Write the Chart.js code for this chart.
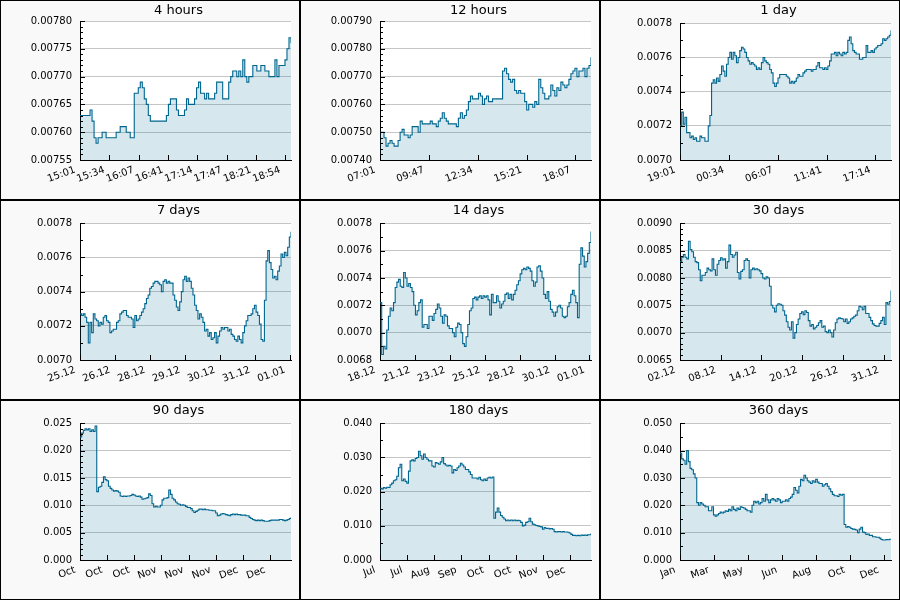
<!DOCTYPE html>
<html>
<head>
<meta charset="utf-8">
<script src="https://cdn.jsdelivr.net/npm/chart.js@4/dist/chart.umd.min.js"></script>
<style>
  body { margin: 0; background: #fff; }
  #grid {
    width: 900px; height: 600px; box-sizing: border-box; padding: 1px;
    background: #000; display: grid; gap: 2px;
    grid-template-columns: 298px 298px 298px;
    grid-template-rows: 198px 198px 198px;
  }
  .cell { background: #f9f9f9; }
  canvas { display: block; }
</style>
</head>
<body>
<div id="grid"></div>
<script>
// x tick labels
const labels4h = ['15:01', '15:34', '16:07', '16:41', '17:14', '17:47', '18:21', '18:54'];
const labels12h = ['07:01', '09:47', '12:34', '15:21', '18:07'];
const labels1d = ['19:01', '00:34', '06:07', '11:41', '17:14'];
const labels7d = ['25.12', '26.12', '28.12', '29.12', '30.12', '31.12', '01.01'];
const labels14d = ['18.12', '21.12', '23.12', '25.12', '28.12', '30.12', '01.01'];
const labels30d = ['02.12', '08.12', '14.12', '20.12', '26.12', '31.12'];
const labels90d = ['Oct', 'Oct', 'Oct', 'Nov', 'Nov', 'Nov', 'Dec', 'Dec'];
const labels180d = ['Jul', 'Jul', 'Aug', 'Sep', 'Oct', 'Oct', 'Nov', 'Dec'];
const labels360d = ['Jan', 'Mar', 'May', 'Jun', 'Aug', 'Oct', 'Dec'];

// prices, sampled at even time steps over each range
const values4h = [0.00763,0.00763,0.00763,0.00763,0.00763,0.00764,0.00762,0.00759,0.00758,0.00759,0.00759,0.00760,0.00760,0.00759,0.00759,0.00759,0.00759,0.00759,0.00760,0.00760,0.00761,0.00761,0.00761,0.00760,0.00760,0.00759,0.00759,0.00767,0.00767,0.00768,0.00769,0.00768,0.00766,0.00765,0.00763,0.00762,0.00762,0.00762,0.00762,0.00762,0.00762,0.00762,0.00762,0.00763,0.00765,0.00766,0.00766,0.00766,0.00764,0.00763,0.00763,0.00763,0.00764,0.00766,0.00765,0.00765,0.00765,0.00766,0.00768,0.00769,0.00767,0.00767,0.00766,0.00767,0.00766,0.00766,0.00766,0.00767,0.00769,0.00769,0.00769,0.00766,0.00766,0.00766,0.00769,0.00770,0.00771,0.00771,0.00770,0.00771,0.00770,0.00773,0.00770,0.00769,0.00770,0.00770,0.00772,0.00772,0.00771,0.00771,0.00772,0.00772,0.00771,0.00771,0.00770,0.00770,0.00770,0.00773,0.00770,0.00772,0.00772,0.00772,0.00773,0.00775,0.00777,0.00776];
const values12h = [0.00750,0.00750,0.00748,0.00745,0.00746,0.00747,0.00746,0.00745,0.00745,0.00747,0.00750,0.00751,0.00749,0.00749,0.00748,0.00749,0.00752,0.00752,0.00752,0.00750,0.00754,0.00753,0.00753,0.00753,0.00753,0.00754,0.00753,0.00753,0.00752,0.00754,0.00755,0.00757,0.00755,0.00754,0.00753,0.00753,0.00753,0.00753,0.00752,0.00755,0.00757,0.00755,0.00756,0.00758,0.00761,0.00763,0.00762,0.00762,0.00762,0.00764,0.00763,0.00760,0.00762,0.00763,0.00761,0.00761,0.00762,0.00762,0.00762,0.00762,0.00762,0.00772,0.00773,0.00771,0.00769,0.00768,0.00769,0.00765,0.00764,0.00765,0.00764,0.00764,0.00761,0.00758,0.00760,0.00760,0.00759,0.00761,0.00760,0.00769,0.00766,0.00764,0.00762,0.00762,0.00763,0.00767,0.00765,0.00763,0.00766,0.00765,0.00768,0.00767,0.00766,0.00767,0.00769,0.00771,0.00772,0.00773,0.00770,0.00772,0.00772,0.00773,0.00770,0.00773,0.00774,0.00777];
const values1d = [0.00720,0.00728,0.00721,0.00725,0.00716,0.00716,0.00713,0.00714,0.00712,0.00713,0.00711,0.00711,0.00714,0.00713,0.00713,0.00711,0.00711,0.00720,0.00726,0.00745,0.00747,0.00745,0.00748,0.00746,0.00750,0.00755,0.00752,0.00749,0.00756,0.00760,0.00763,0.00759,0.00763,0.00761,0.00757,0.00760,0.00764,0.00766,0.00765,0.00763,0.00760,0.00758,0.00756,0.00757,0.00756,0.00755,0.00753,0.00754,0.00753,0.00757,0.00760,0.00758,0.00757,0.00756,0.00753,0.00751,0.00745,0.00743,0.00745,0.00748,0.00750,0.00750,0.00750,0.00750,0.00749,0.00748,0.00745,0.00746,0.00745,0.00746,0.00748,0.00750,0.00749,0.00749,0.00751,0.00752,0.00753,0.00753,0.00753,0.00752,0.00753,0.00753,0.00755,0.00757,0.00754,0.00754,0.00753,0.00754,0.00753,0.00755,0.00758,0.00762,0.00762,0.00763,0.00761,0.00763,0.00762,0.00761,0.00763,0.00762,0.00763,0.00770,0.00772,0.00768,0.00764,0.00763,0.00762,0.00762,0.00759,0.00759,0.00760,0.00760,0.00767,0.00763,0.00763,0.00764,0.00763,0.00765,0.00766,0.00767,0.00767,0.00768,0.00771,0.00770,0.00771,0.00772,0.00773,0.00776];
const values7d = [0.00727,0.00726,0.00727,0.00725,0.00722,0.00710,0.00722,0.00716,0.00727,0.00724,0.00723,0.00720,0.00722,0.00721,0.00725,0.00726,0.00723,0.00722,0.00716,0.00717,0.00718,0.00718,0.00722,0.00723,0.00727,0.00728,0.00729,0.00729,0.00726,0.00725,0.00725,0.00724,0.00719,0.00726,0.00723,0.00724,0.00726,0.00728,0.00730,0.00733,0.00736,0.00738,0.00742,0.00743,0.00745,0.00746,0.00746,0.00745,0.00744,0.00740,0.00746,0.00747,0.00745,0.00746,0.00745,0.00745,0.00738,0.00735,0.00731,0.00729,0.00734,0.00740,0.00747,0.00749,0.00746,0.00748,0.00746,0.00742,0.00738,0.00732,0.00729,0.00724,0.00727,0.00725,0.00722,0.00717,0.00718,0.00714,0.00716,0.00712,0.00713,0.00716,0.00710,0.00714,0.00717,0.00719,0.00718,0.00719,0.00719,0.00717,0.00718,0.00715,0.00714,0.00712,0.00711,0.00714,0.00712,0.00710,0.00716,0.00720,0.00723,0.00726,0.00726,0.00727,0.00730,0.00732,0.00728,0.00726,0.00721,0.00712,0.00711,0.00735,0.00758,0.00764,0.00757,0.00753,0.00748,0.00749,0.00747,0.00752,0.00755,0.00762,0.00760,0.00763,0.00761,0.00766,0.00772,0.00775];
const values14d = [0.00722,0.00684,0.00690,0.00688,0.00702,0.00712,0.00718,0.00716,0.00722,0.00733,0.00737,0.00739,0.00734,0.00733,0.00744,0.00740,0.00734,0.00736,0.00733,0.00730,0.00720,0.00713,0.00716,0.00722,0.00724,0.00704,0.00706,0.00706,0.00703,0.00712,0.00712,0.00709,0.00714,0.00717,0.00721,0.00718,0.00712,0.00707,0.00713,0.00712,0.00705,0.00703,0.00703,0.00700,0.00697,0.00704,0.00707,0.00706,0.00700,0.00692,0.00690,0.00697,0.00706,0.00716,0.00718,0.00725,0.00726,0.00724,0.00726,0.00727,0.00725,0.00727,0.00726,0.00727,0.00724,0.00713,0.00728,0.00722,0.00722,0.00727,0.00723,0.00718,0.00721,0.00723,0.00728,0.00729,0.00725,0.00728,0.00724,0.00728,0.00731,0.00735,0.00738,0.00743,0.00746,0.00747,0.00746,0.00748,0.00747,0.00745,0.00738,0.00734,0.00737,0.00748,0.00749,0.00745,0.00740,0.00728,0.00725,0.00730,0.00723,0.00717,0.00715,0.00712,0.00715,0.00719,0.00720,0.00718,0.00712,0.00711,0.00712,0.00719,0.00722,0.00728,0.00731,0.00727,0.00722,0.00711,0.00750,0.00762,0.00756,0.00748,0.00752,0.00758,0.00766,0.00774];
const values30d = [0.00830,0.00838,0.00843,0.00838,0.00835,0.00867,0.00852,0.00848,0.00838,0.00830,0.00828,0.00815,0.00795,0.00805,0.00805,0.00810,0.00818,0.00815,0.00813,0.00835,0.00815,0.00805,0.00825,0.00832,0.00837,0.00833,0.00835,0.00818,0.00830,0.00860,0.00843,0.00838,0.00842,0.00847,0.00810,0.00798,0.00812,0.00815,0.00832,0.00835,0.00832,0.00800,0.00815,0.00818,0.00815,0.00817,0.00815,0.00813,0.00808,0.00800,0.00798,0.00802,0.00800,0.00785,0.00750,0.00745,0.00738,0.00750,0.00753,0.00752,0.00750,0.00740,0.00732,0.00720,0.00710,0.00705,0.00720,0.00690,0.00700,0.00715,0.00725,0.00735,0.00738,0.00733,0.00740,0.00737,0.00722,0.00712,0.00715,0.00707,0.00710,0.00713,0.00718,0.00722,0.00710,0.00712,0.00702,0.00700,0.00705,0.00700,0.00692,0.00705,0.00718,0.00725,0.00727,0.00726,0.00725,0.00720,0.00725,0.00717,0.00720,0.00725,0.00727,0.00730,0.00732,0.00740,0.00748,0.00747,0.00742,0.00748,0.00735,0.00735,0.00728,0.00722,0.00716,0.00713,0.00712,0.00712,0.00717,0.00722,0.00728,0.00715,0.00755,0.00752,0.00757,0.00777];
const values90d = [0.0225,0.0232,0.0237,0.0240,0.0238,0.0240,0.0235,0.0238,0.0235,0.0245,0.0125,0.0133,0.0135,0.0142,0.0152,0.0147,0.0145,0.0135,0.0131,0.0128,0.0126,0.0127,0.0126,0.0124,0.0117,0.0116,0.0117,0.0116,0.0117,0.0117,0.0118,0.0120,0.0119,0.0117,0.0116,0.0117,0.0115,0.0111,0.0112,0.0113,0.0114,0.0121,0.0118,0.0103,0.0097,0.0098,0.0097,0.0097,0.0100,0.0110,0.0113,0.0113,0.0114,0.0128,0.0120,0.0113,0.0110,0.0106,0.0103,0.0102,0.0100,0.0101,0.0100,0.0098,0.0096,0.0096,0.0094,0.0090,0.0087,0.0089,0.0091,0.0093,0.0093,0.0092,0.0093,0.0092,0.0092,0.0091,0.0091,0.0090,0.0090,0.0086,0.0081,0.0082,0.0084,0.0085,0.0084,0.0083,0.0082,0.0081,0.0083,0.0084,0.0083,0.0084,0.0083,0.0083,0.0082,0.0082,0.0082,0.0081,0.0081,0.0078,0.0076,0.0074,0.0073,0.0072,0.0073,0.0072,0.0073,0.0072,0.0071,0.0071,0.0071,0.0072,0.0073,0.0073,0.0073,0.0073,0.0073,0.0074,0.0074,0.0073,0.0072,0.0073,0.0074,0.0076,0.0078];
const values180d = [0.0210,0.0208,0.0212,0.0210,0.0213,0.0212,0.0220,0.0225,0.0232,0.0235,0.0245,0.0270,0.0280,0.0232,0.0237,0.0230,0.0225,0.0260,0.0290,0.0293,0.0290,0.0297,0.0300,0.0318,0.0305,0.0295,0.0310,0.0300,0.0295,0.0290,0.0290,0.0275,0.0272,0.0285,0.0283,0.0280,0.0287,0.0300,0.0282,0.0278,0.0275,0.0277,0.0275,0.0255,0.0265,0.0262,0.0270,0.0275,0.0283,0.0278,0.0272,0.0265,0.0265,0.0258,0.0250,0.0240,0.0240,0.0240,0.0237,0.0242,0.0235,0.0232,0.0237,0.0233,0.0240,0.0242,0.0240,0.0243,0.0122,0.0140,0.0152,0.0140,0.0130,0.0125,0.0120,0.0115,0.0117,0.0115,0.0117,0.0115,0.0117,0.0115,0.0116,0.0115,0.0110,0.0100,0.0102,0.0110,0.0112,0.0122,0.0112,0.0105,0.0103,0.0101,0.0100,0.0098,0.0097,0.0090,0.0095,0.0092,0.0093,0.0091,0.0092,0.0090,0.0083,0.0082,0.0083,0.0083,0.0082,0.0083,0.0082,0.0082,0.0081,0.0079,0.0075,0.0072,0.0072,0.0071,0.0072,0.0071,0.0073,0.0072,0.0073,0.0072,0.0074,0.0074,0.0078];
const values360d = [0.0390,0.0370,0.0365,0.0350,0.0400,0.0360,0.0335,0.0330,0.0315,0.0300,0.0210,0.0200,0.0210,0.0205,0.0200,0.0195,0.0195,0.0180,0.0180,0.0195,0.0165,0.0160,0.0165,0.0170,0.0175,0.0172,0.0175,0.0180,0.0178,0.0185,0.0180,0.0195,0.0185,0.0180,0.0190,0.0185,0.0195,0.0192,0.0190,0.0185,0.0180,0.0180,0.0175,0.0200,0.0215,0.0210,0.0215,0.0205,0.0210,0.0225,0.0215,0.0240,0.0220,0.0210,0.0220,0.0225,0.0220,0.0215,0.0225,0.0220,0.0210,0.0215,0.0215,0.0220,0.0215,0.0225,0.0230,0.0240,0.0265,0.0255,0.0245,0.0270,0.0295,0.0290,0.0310,0.0300,0.0290,0.0285,0.0280,0.0290,0.0285,0.0295,0.0285,0.0280,0.0280,0.0270,0.0275,0.0280,0.0270,0.0260,0.0250,0.0240,0.0235,0.0235,0.0232,0.0240,0.0237,0.0240,0.0130,0.0120,0.0122,0.0120,0.0115,0.0113,0.0112,0.0110,0.0100,0.0113,0.0120,0.0102,0.0100,0.0093,0.0095,0.0090,0.0090,0.0085,0.0085,0.0083,0.0083,0.0080,0.0075,0.0073,0.0073,0.0075,0.0074,0.0076,0.0076];

// span and tickStep in hours
const panels = [
  { title: '4 hours', values: values4h, labels: labels4h, span: 4, tickStep: 2000 / 3600, yMin: 0.00755, yMax: 0.00780, yStep: 0.00005, minor: 4, dec: 5, top: 20 },
  { title: '12 hours', values: values12h, labels: labels12h, span: 12, tickStep: 10000 / 3600, yMin: 0.00740, yMax: 0.00790, yStep: 0.0001, minor: 4, dec: 5, top: 20 },
  { title: '1 day', values: values1d, labels: labels1d, span: 24, tickStep: 20000 / 3600, yMin: 0.0070, yMax: 0.0078, yStep: 0.0002, minor: 1, dec: 4, top: 22.3 },
  { title: '7 days', values: values7d, labels: labels7d, span: 169, tickStep: 28, yMin: 0.0070, yMax: 0.0078, yStep: 0.0002, minor: 1, dec: 4, top: 22.3 },
  { title: '14 days', values: values14d, labels: labels14d, span: 338.5, tickStep: 56, yMin: 0.0068, yMax: 0.0078, yStep: 0.0002, minor: 1, dec: 4, top: 22.3 },
  { title: '30 days', values: values30d, labels: labels30d, span: 720, tickStep: 500000 / 3600, yMin: 0.0065, yMax: 0.0090, yStep: 0.0005, minor: 4, dec: 4, top: 22.3 },
  { title: '90 days', values: values90d, labels: labels90d, span: 2160, tickStep: 1000000 / 3600, yMin: 0, yMax: 0.025, yStep: 0.005, minor: 4, dec: 3, top: 22.3 },
  { title: '180 days', values: values180d, labels: labels180d, span: 4320, tickStep: 2000000 / 3600, yMin: 0, yMax: 0.040, yStep: 0.010, minor: 1, dec: 3, top: 22.3 },
  { title: '360 days', values: values360d, labels: labels360d, span: 8640, tickStep: 5000000 / 3600, yMin: 0, yMax: 0.050, yStep: 0.010, minor: 1, dec: 3, top: 22.3 }
];

Chart.defaults.font.family = '"DejaVu Sans", sans-serif';
Chart.defaults.font.size = 10;
Chart.defaults.color = '#000';

// white plot area on grey panel
const plotBg = {
  id: 'plotBg',
  beforeDraw(chart) {
    const { ctx, chartArea: a } = chart;
    ctx.save();
    ctx.fillStyle = '#fff';
    ctx.fillRect(a.left, a.top, a.right - a.left, a.bottom - a.top);
    ctx.restore();
  }
};

// title sits a bit right of the canvas middle
const titleShift = {
  id: 'titleShift',
  afterLayout(chart) {
    const tb = chart.titleBlock;
    if (!tb) return;
    const w = tb.right - tb.left;
    tb.left = 177.5 - w / 2;
    tb.right = tb.left + w;
  }
};

// tick marks drawn inside the plot
const innerTicks = {
  id: 'innerTicks',
  afterDraw(chart, args, opts) {
    const { ctx, chartArea: a, scales: { x, y } } = chart;
    ctx.save();
    ctx.strokeStyle = '#000';
    ctx.lineWidth = 1;
    ctx.beginPath();
    x.ticks.forEach(t => {
      const px = Math.round(x.getPixelForValue(t.value)) + 0.5;
      ctx.moveTo(px, a.bottom);
      ctx.lineTo(px, a.bottom - 5);
    });
    const per = opts.minor + 1;
    const n = Math.round((y.max - y.min) / opts.step * per);
    for (let j = 0; j <= n; j++) {
      const v = y.min + (y.max - y.min) * j / n;
      const py = Math.round(y.getPixelForValue(v)) + 0.5;
      ctx.moveTo(a.left, py);
      ctx.lineTo(a.left + (j % per === 0 ? 5 : 3), py);
    }
    ctx.stroke();
    ctx.restore();
  }
};

const grid = document.getElementById('grid');

panels.forEach(p => {
  const cell = document.createElement('div');
  cell.className = 'cell';
  const canvas = document.createElement('canvas');
  canvas.width = 298;
  canvas.height = 198;
  cell.appendChild(canvas);
  grid.appendChild(cell);

  const n = p.values.length;
  const points = p.values.map((v, i) => ({ x: i * p.span / (n - 1), y: v }));

  new Chart(canvas, {
    type: 'line',
    data: {
      datasets: [{
        data: points,
        borderColor: '#00668f',
        borderWidth: 1.1,
        backgroundColor: 'rgba(0, 106, 148, 0.16)',
        fill: 'start',
        stepped: true,
        pointRadius: 0,
        tension: 0
      }]
    },
    options: {
      responsive: false,
      animation: false,
      events: [],
      layout: { padding: { top: 0, left: 0, right: 8, bottom: 0 } },
      plugins: {
        legend: { display: false },
        tooltip: { enabled: false },
        title: {
          display: true,
          text: p.title,
          color: '#000',
          font: { size: 13, weight: 'normal', lineHeight: 1.2 },
          padding: { top: 2, bottom: p.top - 17.6 }
        },
        innerTicks: { step: p.yStep, minor: p.minor }
      },
      scales: {
        x: {
          type: 'linear',
          min: 0,
          max: p.span,
          afterBuildTicks: s => { s.ticks = p.labels.map((_, i) => ({ value: i * p.tickStep })); },
          afterFit: s => { s.height = 39; },
          grid: { display: false, drawTicks: false },
          border: { display: true, color: '#000', width: 1 },
          ticks: {
            autoSkip: false,
            minRotation: 20,
            maxRotation: 20,
            padding: 4,
            labelOffset: -5,
            color: '#000',
            callback: (v, i) => p.labels[i]
          }
        },
        y: {
          min: p.yMin,
          max: p.yMax,
          afterFit: s => { s.width = 79; },
          grid: { color: '#c6c6c6', drawTicks: false },
          border: { color: '#000', width: 1 },
          ticks: {
            stepSize: p.yStep,
            padding: 8,
            color: '#000',
            callback: v => v.toFixed(p.dec)
          }
        }
      }
    },
    plugins: [plotBg, titleShift, innerTicks]
  });
});
</script>
</body>
</html>
